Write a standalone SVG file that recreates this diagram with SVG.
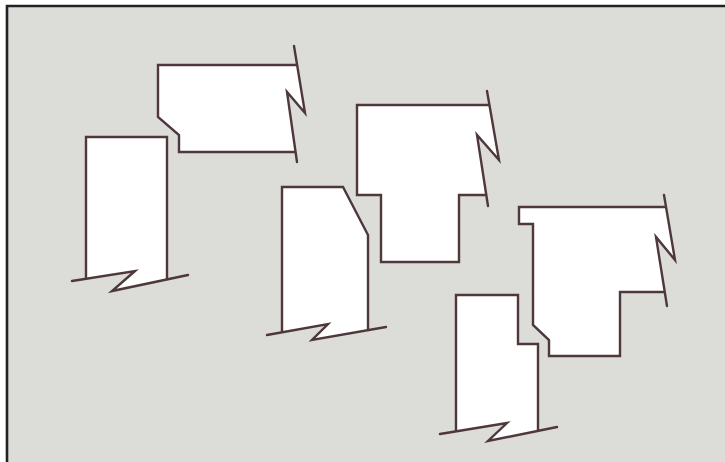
<svg xmlns="http://www.w3.org/2000/svg" width="725" height="462" viewBox="0 0 725 462">
<defs>
<style>
.fill{fill:#ffffff;stroke:none}
.edge{fill:none;stroke:#4e383c;stroke-width:2.4;stroke-linejoin:miter;stroke-linecap:butt}
.brk{fill:none;stroke:#4e383c;stroke-width:2.4;stroke-linejoin:miter;stroke-linecap:round}
</style>
</defs>
<rect x="0" y="0" width="725" height="462" fill="#ffffff"/>
<rect x="7" y="6" width="718" height="456" fill="#dcdcd9"/>
<path d="M7,463 V6 H725" fill="none" stroke="#222222" stroke-width="2.6"/>
<g id="shape1">
<polygon class="fill" points="158,65 297.1,65 305,113 287,92 295.6,152 179,152 179,135 158,117"/>
<path class="edge" d="M297,65 H158 V117 L179,135 V152 H296"/>
<polyline class="brk" points="294,46 305,113 287,92 297,162"/>
</g>
<g id="shape2">
<polygon class="fill" points="86,137 167,137 167,279.4 112,291 135,271 86,278.8"/>
<path class="edge" d="M86,279 V137 H167 V279.4"/>
<polyline class="brk" points="72,281 135,271 112,291 188,275"/>
</g>
<g id="shape3">
<polygon class="fill" points="282,187 343,187 368,235 368,330.2 312,340 328,324 282,332.3"/>
<path class="edge" d="M282,332.3 V187 H343 L368,235 V330.2"/>
<polyline class="brk" points="267,335 328,324 312,340 386,327"/>
</g>
<g id="shape4">
<polygon class="fill" points="357,105 489.4,105 499,160 477,135 486.3,195 459,195 459,262 381,262 381,195 357,195"/>
<path class="edge" d="M489.4,105 H357 V195 H381 V262 H459 V195 H486.3"/>
<polyline class="brk" points="487,91 499,160 477,135 488,206"/>
</g>
<g id="shape5">
<polygon class="fill" points="519,207 666,207 675,260 656,237 664.8,292 620,292 620,356 549,356 549,340 533,325 533,224 519,224"/>
<path class="edge" d="M666,207 H519 V224 H533 V325 L549,340 V356 H620 V292 H664.8"/>
<polyline class="brk" points="664,195 675,260 656,237 667,306"/>
</g>
<g id="shape6">
<polygon class="fill" points="456,295 518,295 518,344 538,344 538,430.9 488,441 507,423 456,431.4"/>
<path class="edge" d="M456,431.4 V295 H518 V344 H538 V430.9"/>
<polyline class="brk" points="440,434 507,423 488,441 557,427"/>
</g>
<g id="connectors"></g>
</svg>
